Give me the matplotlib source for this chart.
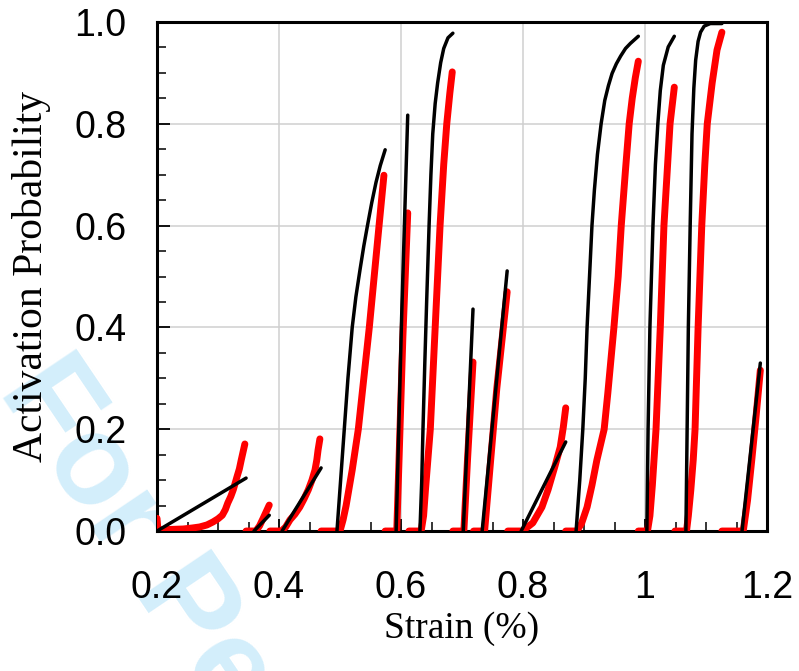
import numpy as np
import matplotlib
matplotlib.use("Agg")
import matplotlib.pyplot as plt

# each event: red = model, black = fit
red_x = [
    [0.2, 0.2016, 0.22, 0.243, 0.258, 0.270, 0.282, 0.292, 0.300, 0.307, 0.312,
     0.316, 0.321, 0.325, 0.331, 0.335, 0.338, 0.341, 0.344],
    [0.346, 0.362, 0.368, 0.374, 0.379, 0.384],
    [0.385, 0.404, 0.411, 0.418, 0.426, 0.434, 0.441, 0.448, 0.454, 0.459, 0.462, 0.464, 0.467],
    [0.469, 0.498, 0.500, 0.505, 0.510, 0.515, 0.520, 0.525, 0.530, 0.539, 0.548, 0.556, 0.564, 0.572],
    [0.574, 0.593, 0.597, 0.603, 0.611],
    [0.613, 0.633, 0.637, 0.640, 0.644, 0.648, 0.656, 0.664, 0.670, 0.675, 0.680, 0.684],
    [0.685, 0.703, 0.709, 0.718],
    [0.719, 0.737, 0.757, 0.774],
    [0.775, 0.799, 0.816, 0.831, 0.841, 0.852, 0.861, 0.866, 0.870],
    [0.870, 0.888, 0.896, 0.905, 0.913, 0.921, 0.933, 0.939, 0.949, 0.956, 0.961,
     0.968, 0.974, 0.979, 0.984, 0.989],
    [0.989, 1.004, 1.008, 1.012, 1.018, 1.025, 1.031, 1.036, 1.041, 1.048],
    [1.049, 1.068, 1.071, 1.075, 1.079, 1.082, 1.087, 1.093, 1.098, 1.102, 1.110, 1.118, 1.126],
    [1.126, 1.161, 1.168, 1.175, 1.182, 1.189],
]
red_y = [
    [0.025, 0.002, 0.003, 0.004, 0.006, 0.008, 0.012, 0.018, 0.024, 0.031, 0.042,
     0.055, 0.068, 0.081, 0.106, 0.122, 0.139, 0.155, 0.171],
    [0.0, 0.0, 0.010, 0.025, 0.038, 0.051],
    [0.0, 0.0, 0.008, 0.022, 0.033, 0.047, 0.063, 0.081, 0.100, 0.120, 0.140, 0.159, 0.181],
    [0.0, 0.0, 0.0, 0.022, 0.050, 0.085, 0.120, 0.160, 0.200, 0.300, 0.400, 0.500, 0.600, 0.699],
    [0.0, 0.0, 0.150, 0.380, 0.625],
    [0.0, 0.0, 0.030, 0.080, 0.140, 0.200, 0.400, 0.600, 0.720, 0.800, 0.860, 0.902],
    [0.0, 0.0, 0.140, 0.332],
    [0.0, 0.0, 0.280, 0.470],
    [0.0, 0.0, 0.016, 0.047, 0.081, 0.126, 0.165, 0.204, 0.242],
    [0.0, 0.0, 0.015, 0.047, 0.090, 0.139, 0.200, 0.271, 0.400, 0.500, 0.600,
     0.710, 0.800, 0.850, 0.890, 0.923],
    [0.0, 0.0, 0.030, 0.090, 0.200, 0.400, 0.600, 0.700, 0.800, 0.872],
    [0.0, 0.0, 0.030, 0.080, 0.140, 0.200, 0.400, 0.600, 0.720, 0.800, 0.880, 0.945, 0.980],
    [0.0, 0.0, 0.060, 0.140, 0.225, 0.316],
]
black_x = [
    [0.2, 0.346],
    [0.359, 0.384],
    [0.405, 0.469],
    [0.495, 0.501, 0.507, 0.513, 0.520, 0.526, 0.533, 0.539, 0.545, 0.552, 0.559, 0.566, 0.574],
    [0.592, 0.601, 0.611],
    [0.631, 0.634, 0.636, 0.639, 0.642, 0.646, 0.649, 0.652, 0.656, 0.660, 0.665, 0.670, 0.677, 0.685],
    [0.702, 0.718],
    [0.733, 0.774],
    [0.797, 0.870],
    [0.887, 0.893, 0.898, 0.902, 0.905, 0.909, 0.913, 0.917, 0.922, 0.928, 0.934,
     0.940, 0.946, 0.953, 0.960, 0.968, 0.976, 0.989],
    [1.003, 1.005, 1.008, 1.013, 1.017, 1.021, 1.025, 1.030, 1.038, 1.048],
    [1.067, 1.069, 1.071, 1.074, 1.077, 1.080, 1.083, 1.087, 1.091, 1.097, 1.107, 1.126],
    [1.159, 1.189],
]
black_y = [
    [0.0, 0.104],
    [0.0, 0.031],
    [0.0, 0.124],
    [0.0, 0.100, 0.200, 0.300, 0.400, 0.460, 0.515, 0.560, 0.600, 0.645, 0.685, 0.718, 0.749],
    [0.0, 0.420, 0.817],
    [0.0, 0.100, 0.200, 0.330, 0.450, 0.600, 0.700, 0.780, 0.840, 0.880, 0.920, 0.948, 0.969, 0.978],
    [0.0, 0.436],
    [0.0, 0.511],
    [0.0, 0.175],
    [0.0, 0.100, 0.200, 0.300, 0.400, 0.500, 0.600, 0.670, 0.740, 0.800, 0.846,
     0.875, 0.899, 0.918, 0.933, 0.948, 0.958, 0.972],
    [0.0, 0.200, 0.400, 0.600, 0.720, 0.800, 0.865, 0.915, 0.951, 0.972],
    [0.0, 0.200, 0.400, 0.600, 0.780, 0.870, 0.925, 0.962, 0.980, 0.992, 0.997, 0.997],
    [0.0, 0.330],
]

x_ticks = [0.2, 0.4, 0.6, 0.8, 1.0, 1.2]
x_labels = ["0.2", "0.4", "0.6", "0.8", "1", "1.2"]
y_ticks = [0.0, 0.2, 0.4, 0.6, 0.8, 1.0]
y_labels = ["0.0", "0.2", "0.4", "0.6", "0.8", "1.0"]

fig = plt.figure(figsize=(7.99, 6.71), dpi=100)
ax = fig.add_axes([0.1965, 0.2086, 0.7635, 0.7586])

for xs, ys in zip(red_x, red_y):
    ax.plot(xs, ys, color="#ff0000", lw=5.0, solid_capstyle="round", solid_joinstyle="round", zorder=3)
for xs, ys in zip(black_x, black_y):
    ax.plot(xs, ys, color="black", lw=2.5, solid_capstyle="round", solid_joinstyle="round", zorder=4)

ax.set_xlim(0.2, 1.2)
ax.set_ylim(0.0, 1.0)
ax.set_xticks(x_ticks)
ax.set_xticklabels(x_labels)
ax.set_yticks(y_ticks)
ax.set_yticklabels(y_labels)
ax.set_xticks(np.arange(0.25, 1.2, 0.05), minor=True)
ax.set_yticks(np.arange(0.05, 1.0, 0.05), minor=True)
ax.grid(True, which="major", color="#cfcfcf", lw=1.1, zorder=0)
ax.set_axisbelow(True)

ax.tick_params(which="major", direction="in", length=9, width=1.3, labelsize=27)
ax.tick_params(which="minor", direction="in", length=6.5, width=1.1)
ax.tick_params(axis="x", which="major", pad=28)
ax.tick_params(axis="y", which="major", pad=22)
for lab in ax.get_xticklabels() + ax.get_yticklabels():
    lab.set_fontfamily("Liberation Sans")
for sp in ax.spines.values():
    sp.set_linewidth(2.2)

ax.set_xlabel("Strain (%)", fontfamily="Liberation Serif", fontsize=27, labelpad=4)
ax.set_ylabel("Activation Probability", fontfamily="Liberation Serif", fontsize=30, labelpad=17)

# watermark
fig.text(0.031, 0.4455, "For Peer Review", color="#d3eefb", fontsize=92, fontweight="bold",
         fontfamily="Liberation Sans", rotation=-56, rotation_mode="anchor",
         ha="left", va="center", zorder=-1)

fig.savefig("out.png", dpi=100)
